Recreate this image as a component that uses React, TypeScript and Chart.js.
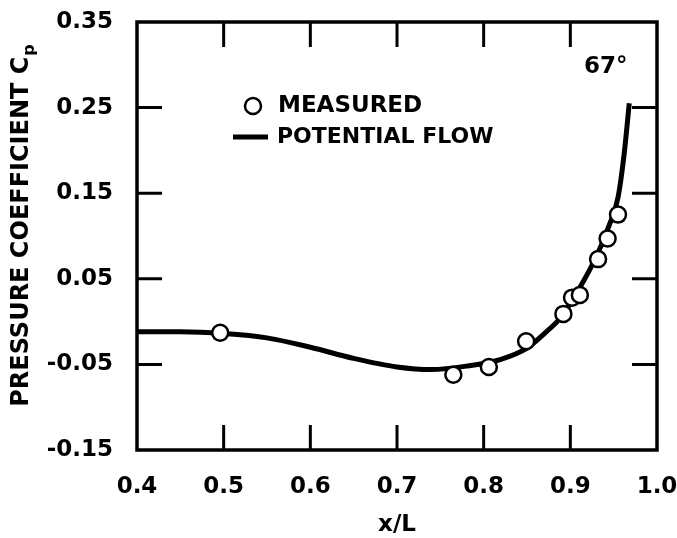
import { useEffect, useRef } from "react";
import { Chart, registerables } from "chart.js";

Chart.register(...registerables);

// ---- data ----
const xTickValues = [0.4, 0.5, 0.6, 0.7, 0.8, 0.9, 1.0];
const yTickValues = [-0.15, -0.05, 0.05, 0.15, 0.25, 0.35];
const measuredX = [0.496, 0.765, 0.806, 0.849, 0.892, 0.902, 0.911, 0.932, 0.943, 0.955];
const measuredCp = [-0.013, -0.062, -0.053, -0.023, 0.009, 0.028, 0.031, 0.073, 0.097, 0.125];
const potentialX = [0.4, 0.45, 0.5, 0.55, 0.6, 0.65, 0.7, 0.74, 0.78, 0.82, 0.85, 0.87, 0.89, 0.91, 0.93, 0.945, 0.955, 0.962, 0.968];
const potentialCp = [-0.012, -0.012, -0.014, -0.019, -0.03, -0.043, -0.053, -0.056, -0.052, -0.044, -0.031, -0.014, 0.006, 0.038, 0.076, 0.113, 0.145, 0.195, 0.255];
const seriesNames = ["MEASURED", "POTENTIAL FLOW"];
const angleLabel = "67°";
const xTitle = "x/L";
const yTitleMain = "PRESSURE COEFFICIENT C";
const yTitleSub = "p";

const FONT = '"DejaVu Sans", sans-serif';

const framePlugin = {
  id: "frameTicks",
  afterDatasetsDraw(chart: any) {
    const { ctx, chartArea: a, scales } = chart;
    const xs = scales.x;
    const ys = scales.y;
    const tl = 25;
    ctx.save();
    ctx.strokeStyle = "#000";
    ctx.lineCap = "butt";
    ctx.lineWidth = 3;
    xTickValues.slice(1, -1).forEach((v) => {
      const px = xs.getPixelForValue(v);
      ctx.beginPath();
      ctx.moveTo(px, a.bottom);
      ctx.lineTo(px, a.bottom - tl);
      ctx.moveTo(px, a.top);
      ctx.lineTo(px, a.top + tl);
      ctx.stroke();
    });
    yTickValues.slice(1, -1).forEach((v) => {
      const py = ys.getPixelForValue(v);
      ctx.beginPath();
      ctx.moveTo(a.left, py);
      ctx.lineTo(a.left + tl, py);
      ctx.moveTo(a.right, py);
      ctx.lineTo(a.right - tl, py);
      ctx.stroke();
    });
    ctx.lineWidth = 3.5;
    ctx.lineJoin = "miter";
    ctx.strokeRect(a.left, a.top, a.right - a.left, a.bottom - a.top);
    ctx.restore();
  },
  afterDraw(chart: any) {
    const { ctx, chartArea: a } = chart;
    ctx.save();
    ctx.strokeStyle = "#000";
    // legend
    ctx.beginPath();
    ctx.arc(253, 106, 8, 0, Math.PI * 2);
    ctx.fillStyle = "#fff";
    ctx.fill();
    ctx.lineWidth = 2.5;
    ctx.stroke();
    ctx.fillStyle = "#000";
    ctx.font = `bold 23px ${FONT}`;
    ctx.textAlign = "left";
    ctx.textBaseline = "middle";
    ctx.fillText(seriesNames[0], 278, 106);
    ctx.beginPath();
    ctx.lineWidth = 5;
    ctx.moveTo(233, 137);
    ctx.lineTo(268, 137);
    ctx.stroke();
    ctx.font = `bold 22px ${FONT}`;
    ctx.fillText(seriesNames[1], 277, 137);
    // angle label
    ctx.font = `bold 23px ${FONT}`;
    ctx.fillText(angleLabel, a.right - 73, 67);
    // y title with subscript
    ctx.translate(22, 226);
    ctx.rotate(-Math.PI / 2);
    ctx.font = `bold 24px ${FONT}`;
    const wMain = ctx.measureText(yTitleMain).width;
    ctx.font = `bold 16px ${FONT}`;
    const wSub = ctx.measureText(yTitleSub).width;
    const start = -(wMain + wSub) / 2;
    ctx.font = `bold 24px ${FONT}`;
    ctx.fillText(yTitleMain, start, 0);
    ctx.font = `bold 16px ${FONT}`;
    ctx.fillText(yTitleSub, start + wMain + 1, 8);
    ctx.restore();
  },
};

export default function App() {
  const ref = useRef<HTMLCanvasElement | null>(null);
  useEffect(() => {
    if (!ref.current) return;
    const chart = new Chart(ref.current, {
      type: "scatter",
      data: {
        datasets: [
          {
            label: seriesNames[0],
            data: measuredX.map((x, i) => ({ x, y: measuredCp[i] })),
            pointRadius: 8,
            pointHoverRadius: 8,
            pointBackgroundColor: "#fff",
            pointBorderColor: "#000",
            pointBorderWidth: 2.5,
            showLine: false,
            order: 0,
          } as any,
          {
            label: seriesNames[1],
            type: "line",
            data: potentialX.map((x, i) => ({ x, y: potentialCp[i] })),
            showLine: true,
            pointRadius: 0,
            borderColor: "#000",
            borderWidth: 5,
            cubicInterpolationMode: "monotone",
            fill: false,
            order: 1,
          } as any,
        ],
      },
      options: {
        animation: false,
        responsive: false,
        layout: { padding: { top: 22, right: 20, left: 0, bottom: 0 } },
        plugins: { legend: { display: false }, tooltip: { enabled: false } },
        scales: {
          x: {
            type: "linear",
            min: 0.4,
            max: 1.0,
            grid: { display: false, drawTicks: false },
            border: { display: false },
            afterBuildTicks: (s: any) => {
              s.ticks = xTickValues.map((v) => ({ value: v }));
            },
            afterFit: (s: any) => {
              s.height = 88;
              s.paddingLeft = 0;
              s.paddingRight = 0;
            },
            ticks: {
              padding: 23,
              color: "#000",
              font: { family: FONT, size: 23, weight: "bold" },
              callback: (v: any) => Number(v).toFixed(1),
              maxRotation: 0,
              autoSkip: false,
            },
            title: {
              display: true,
              text: xTitle,
              color: "#000",
              font: { family: FONT, size: 23, weight: "bold" },
              padding: { top: 0, bottom: -1 },
            },
          },
          y: {
            type: "linear",
            min: -0.15,
            max: 0.35,
            grid: { display: false, drawTicks: false },
            border: { display: false },
            afterBuildTicks: (s: any) => {
              s.ticks = yTickValues.map((v) => ({ value: v }));
            },
            afterFit: (s: any) => {
              s.width = 137;
              s.paddingTop = 0;
              s.paddingBottom = 0;
            },
            ticks: {
              padding: 24,
              color: "#000",
              font: { family: FONT, size: 23, weight: "bold" },
              callback: (v: any) => Number(v).toFixed(2),
              autoSkip: false,
            },
          },
        },
      },
      plugins: [framePlugin],
    });
    return () => chart.destroy();
  }, []);
  return (
    <div style={{ position: "fixed", left: 0, top: 0, width: 677, height: 538, background: "#fff" }}>
      <canvas ref={ref} width={677} height={538} style={{ width: 677, height: 538 }} />
    </div>
  );
}
